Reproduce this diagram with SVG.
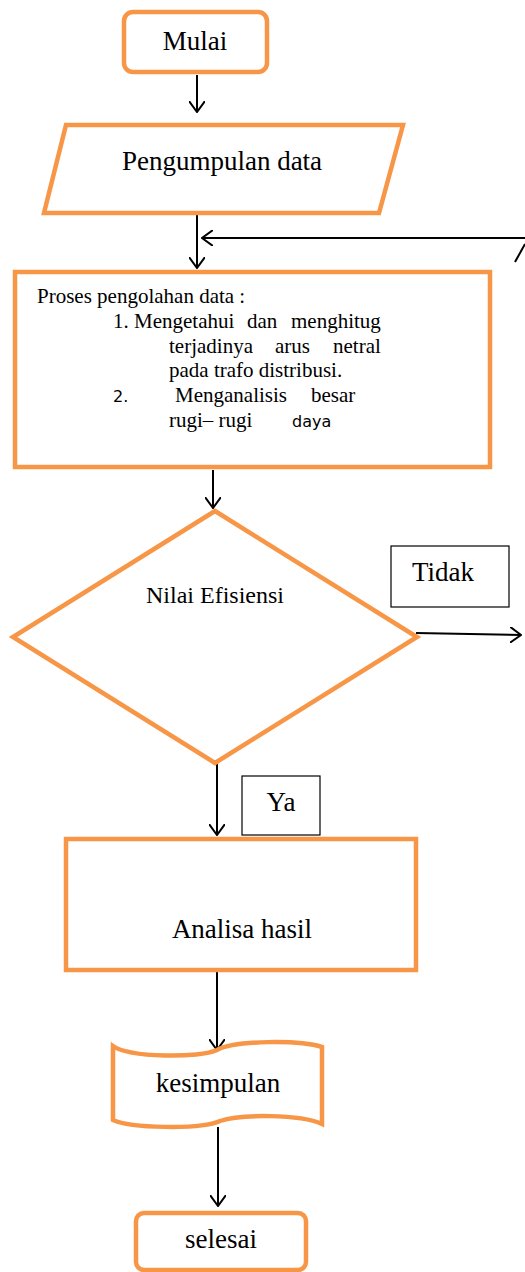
<svg xmlns="http://www.w3.org/2000/svg" width="525" height="1272" viewBox="0 0 525 1272">
<style>
.s{fill:#fff;stroke:#F79646;stroke-width:4.5}
.t{font-family:"Liberation Serif",serif;fill:#000}
.m{font-size:27px}
.p{font-size:21px}
.k{font-family:"DejaVu Sans",sans-serif;font-size:16px;fill:#000}
.l{fill:none;stroke:#000;stroke-width:2}
.b{fill:#fff;stroke:#000;stroke-width:1.2}
</style>
<defs>
<marker id="ar" viewBox="0 0 12 16" refX="11" refY="8" markerWidth="12" markerHeight="16" markerUnits="userSpaceOnUse" orient="auto">
<path d="M0,0 L11,8 L0,16" fill="none" stroke="#000" stroke-width="2"/>
</marker>
</defs>
<rect width="525" height="1272" fill="#fff"/>
<g id="connectors">
<line class="l" x1="197" y1="75" x2="197" y2="112" marker-end="url(#ar)"/>
<line class="l" x1="197" y1="215" x2="197" y2="268" marker-end="url(#ar)"/>
<line class="l" x1="525" y1="238" x2="202" y2="238" marker-end="url(#ar)"/>
<line class="l" x1="515" y1="262" x2="525" y2="244"/>
<line class="l" x1="213" y1="470" x2="213" y2="508" marker-end="url(#ar)"/>
<line class="l" x1="416" y1="633" x2="521" y2="635" marker-end="url(#ar)"/>
<line class="l" x1="217" y1="763" x2="217" y2="835" marker-end="url(#ar)"/>
<line class="l" x1="217" y1="972" x2="217" y2="1050" marker-end="url(#ar)"/>
<line class="l" x1="218" y1="1127" x2="218" y2="1206" marker-end="url(#ar)"/>
</g>
<g id="mulai">
<rect class="s" x="124" y="12" width="143" height="60" rx="9"/>
<text class="t m" x="195" y="50" text-anchor="middle">Mulai</text>
</g>
<g id="pengumpulan">
<polygon class="s" points="66,125 403,125 379,213 44,213"/>
<text class="t m" x="222" y="170" text-anchor="middle">Pengumpulan data</text>
</g>
<g id="proses">
<rect class="s" x="15" y="272" width="475" height="195"/>
<text class="t p" x="37" y="303">Proses pengolahan data :</text>
<text class="t p" x="113" y="328">1. Mengetahui</text>
<text class="t p" x="247" y="328">dan</text>
<text class="t p" x="291" y="328">menghitug</text>
<text class="t p" x="169" y="353">terjadinya</text>
<text class="t p" x="275" y="353">arus</text>
<text class="t p" x="333" y="353">netral</text>
<text class="t p" x="169" y="377">pada trafo distribusi.</text>
<text class="k" x="113" y="402">2.</text>
<text class="t p" x="175" y="402">Menganalisis</text>
<text class="t p" x="311" y="402">besar</text>
<text class="t p" x="169" y="427">rugi– rugi</text>
<text class="k" x="292" y="427">daya</text>
</g>
<g id="nilai">
<polygon class="s" points="215,511 417,637 215,763 13,637"/>
<text class="t" x="215" y="603" font-size="24" text-anchor="middle">Nilai Efisiensi</text>
</g>
<g id="tidak">
<rect class="b" x="391" y="546" width="118" height="61"/>
<text class="t m" x="412" y="581">Tidak</text>
</g>
<g id="ya">
<rect class="b" x="242" y="776" width="78" height="59"/>
<text class="t m" x="281" y="811" text-anchor="middle">Ya</text>
</g>
<g id="analisa">
<rect class="s" x="66" y="839" width="350" height="131"/>
<text class="t m" x="242" y="938" text-anchor="middle">Analisa hasil</text>
</g>
<g id="kesimpulan">
<path class="s" d="M113,1046 C130,1058 200,1058 217,1050 C235,1040 300,1040 322,1047 L322,1124 C300,1114 240,1114 220,1121 C200,1130 130,1128 113,1120 Z"/>
<text class="t m" x="218" y="1092" text-anchor="middle">kesimpulan</text>
</g>
<g id="selesai">
<rect class="s" x="136" y="1213" width="170" height="57" rx="8"/>
<text class="t m" x="221" y="1248" text-anchor="middle">selesai</text>
</g>
</svg>
